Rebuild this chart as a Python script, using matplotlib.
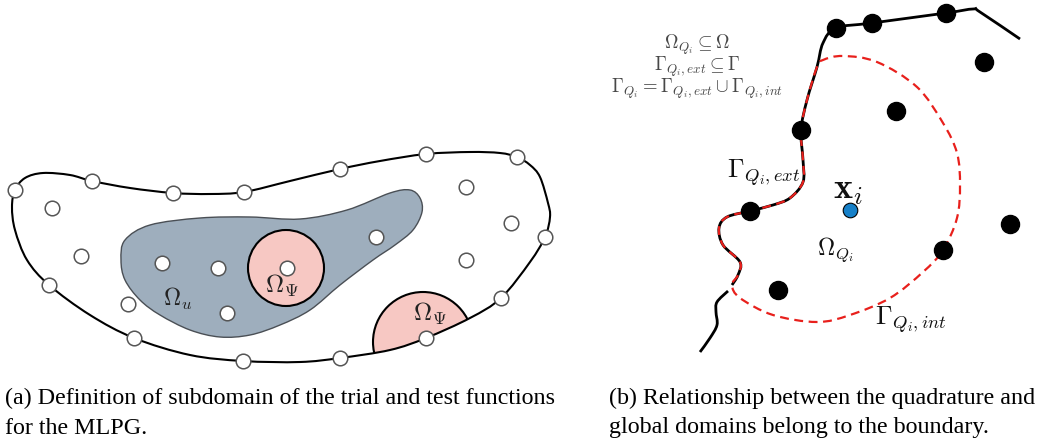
import matplotlib.pyplot as plt
import numpy as np
from matplotlib.path import Path
from matplotlib.patches import PathPatch, Circle

plt.rcParams['mathtext.fontset'] = 'cm'

# ---- panel (a): outer domain, support domain, nodes (pixel coords) ----
outer_x = [15, 25, 43, 70, 92, 130, 173, 210, 244, 290, 340, 380, 426, 470, 500, 517, 530, 540,
           548, 550, 545, 530, 501, 470, 426, 390, 340, 300, 243, 190, 134, 90, 49, 27, 15, 12]
outer_y = [190, 178, 173, 175, 181, 188, 193, 194, 192, 181, 169, 161, 154, 152, 153, 157, 165, 177,
           203, 217, 237, 262, 298, 318, 338, 350, 358, 362, 361, 355, 338, 315, 285, 260, 230, 207]

blue_x = [125, 150, 200, 250, 300, 347, 390, 410, 420, 422, 413, 395, 373, 340, 310, 280, 250, 220,
          190, 160, 140, 125, 121]
blue_y = [240, 225, 218, 217, 219, 210, 193, 190, 198, 212, 230, 245, 260, 285, 310, 325, 335, 337,
          330, 315, 300, 280, 260]

bnd_nodes_x = [15, 92, 173, 244, 340, 426, 517, 545, 501, 426, 340, 243, 134, 49]
bnd_nodes_y = [190, 181, 193, 192, 169, 154, 157, 237, 298, 338, 358, 361, 338, 285]
int_nodes_x = [52, 81, 128, 162, 218, 227, 287, 376, 466, 511, 466]
int_nodes_y = [208, 256, 304, 263, 268, 313, 268, 237, 187, 223, 260]

psi_circles = [(286, 268, 38), (423, 342, 50)]

# ---- panel (b): boundary, quadrature domain, nodes ----
gam_x = [1020, 980, 973, 946, 872, 836, 823, 817, 807, 801, 803, 803, 790, 773, 750, 727, 719, 723, 740, 738, 732]
gam_y = [39, 12, 9, 13, 23, 28, 43, 67, 100, 130, 160, 182, 198, 205, 211, 217, 228, 245, 262, 275, 285]
gam2_x = [728, 717, 716, 717, 710, 700]
gam2_y = [291, 302, 312, 325, 338, 352]
inner_x = [740, 773, 817, 850, 890, 923, 943, 957, 960, 957, 943, 917, 877, 843, 823]
inner_y = [298, 315, 322, 315, 298, 272, 250, 218, 185, 153, 123, 87, 62, 56, 60]

black_x = [836, 872, 946, 801, 984, 896, 750, 1010, 943, 778]
black_y = [28, 23, 13, 130, 62, 111, 211, 224, 250, 290]
xi = (850, 210)


def smooth_path(xs, ys, closed=False):
    p = np.column_stack([xs, ys]).astype(float)
    n = len(p)
    if closed:
        pts = np.vstack([p[-1], p, p[0], p[1]])
        segs = n
    else:
        pts = np.vstack([p[0], p, p[-1]])
        segs = n - 1
    verts = [pts[1]]
    codes = [Path.MOVETO]
    for i in range(segs):
        p0, p1, p2, p3 = pts[i], pts[i + 1], pts[i + 2], pts[i + 3]
        verts += [p1 + (p2 - p0) / 6, p2 - (p3 - p1) / 6, p2]
        codes += [Path.CURVE4] * 3
    return Path(verts, codes)


fig = plt.figure(figsize=(10.41, 4.43), dpi=100)
ax = fig.add_axes([0, 0, 1, 1])
ax.set_xlim(0, 1041)
ax.set_ylim(443, 0)
ax.axis('off')

# panel (a)
outer = PathPatch(smooth_path(outer_x, outer_y, True), facecolor='white', edgecolor='none', zorder=1)
ax.add_patch(outer)
ax.add_patch(PathPatch(smooth_path(blue_x, blue_y, True), facecolor='#9eaebd',
                       edgecolor='#4a4f55', lw=1.0, zorder=2))
for cx, cy, r in psi_circles:
    c = Circle((cx, cy), r, facecolor='#f7c8c3', edgecolor='black', lw=1.5, zorder=3)
    ax.add_patch(c)
    c.set_clip_path(outer)
ax.add_patch(PathPatch(smooth_path(outer_x, outer_y, True), facecolor='none',
                       edgecolor='black', lw=1.5, zorder=4))
ax.plot(bnd_nodes_x + int_nodes_x, bnd_nodes_y + int_nodes_y, 'o', ms=10.5,
        mfc='white', mec='#555555', mew=1.1, zorder=5)
ax.text(178, 299, r'$\Omega_u$', fontsize=17, ha='center', va='center', color='#222222', zorder=6)
ax.text(282, 286, r'$\Omega_\Psi$', fontsize=18, ha='center', va='center', color='#222222', zorder=6)
ax.text(430, 314, r'$\Omega_\Psi$', fontsize=18, ha='center', va='center', color='#222222', zorder=6)

# panel (b)
ax.add_patch(PathPatch(smooth_path(gam_x, gam_y), facecolor='none', edgecolor='black', lw=2.0, zorder=2))
ax.add_patch(PathPatch(smooth_path(gam2_x, gam2_y), facecolor='none', edgecolor='black', lw=2.0, zorder=2))
red_x = gam_x[7:] + inner_x
red_y = gam_y[7:] + inner_y
ax.add_patch(PathPatch(smooth_path(red_x, red_y, True), facecolor='none', edgecolor='#e8201c',
                       lw=1.6, ls=(0, (4, 2.5)), zorder=3))
ax.plot(black_x, black_y, 'o', ms=13, color='black', zorder=5)
ax.plot(*xi, 'o', ms=10.5, mfc='#1680c8', mec='black', mew=0.8, zorder=5)

ax.text(764, 173, r'$\Gamma_{Q_i,ext}$', fontsize=19, ha='center', va='center', color='#111111')
ax.text(848, 190, r'$\mathbf{x}_i$', fontsize=26, ha='center', va='center', color='#111111')
ax.text(835, 250, r'$\Omega_{Q_i}$', fontsize=17, ha='center', va='center', color='#111111')
ax.text(911, 320, r'$\Gamma_{Q_i,int}$', fontsize=19, ha='center', va='center', color='#111111')

grey = '#484848'
ax.text(697, 45, r'$\Omega_{Q_i} \subseteq \Omega$', fontsize=13.5, ha='center', va='center', color=grey)
ax.text(697, 67, r'$\Gamma_{Q_i,ext} \subseteq \Gamma$', fontsize=13.5, ha='center', va='center', color=grey)
ax.text(697, 89, r'$\Gamma_{Q_i} = \Gamma_{Q_i,ext} \cup \Gamma_{Q_i,int}$', fontsize=13.5,
        ha='center', va='center', color=grey)

# captions
cap = dict(fontsize=17.3, family='Liberation Serif', va='center', ha='left', color='black')
ax.text(5, 398, '(a) Definition of subdomain of the trial and test functions', **cap)
ax.text(5, 428, 'for the MLPG.', **cap)
ax.text(609, 398, '(b) Relationship between the quadrature and', **cap)
ax.text(609, 428, 'global domains belong to the boundary.', **cap)

fig.savefig('out.png', dpi=100)
